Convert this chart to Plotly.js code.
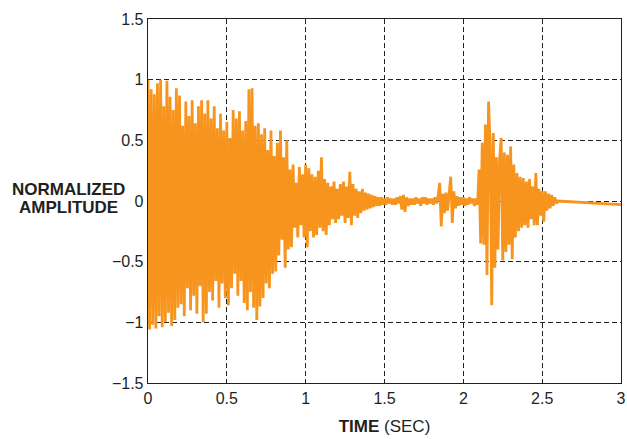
<!DOCTYPE html>
<html>
<head>
<meta charset="utf-8">
<script src="https://cdn.plot.ly/plotly-3.0.1.min.js"></script>
<style>html,body{margin:0;padding:0;background:#fff;}#chart{width:627px;height:439px;}</style>
</head>
<body>
<div id="chart"></div>
<script>
// Sampled waveform: one value every sampleStep seconds, starting at sampleStart
const sampleStart = 0;
const sampleStep = 0.01;
const amplitude = [
  1.0, -1.06, 0.92, -1.02, 0.88, -1.05, 0.97, -0.95, 1.0, -1.04,
  0.78, -1.0, 0.99, -0.92, 0.86, -1.03, 0.75, -0.98, 0.93, -0.88,
  0.87, -0.85, 0.62, -0.95, 0.82, -0.72, 0.70, -0.9, 0.83, -0.78,
  0.64, -0.93, 0.78, -0.7, 0.83, -1.0, 0.72, -0.93, 0.83, -0.75,
  0.68, -0.82, 0.78, -0.66, 0.6, -0.88, 0.72, -0.68, 0.58, -0.8,
  0.65, -0.86, 0.52, -0.72, 0.75, -0.6, 0.68, -0.78, 0.74, -0.66,
  0.58, -0.84, 0.66, -0.9, 0.92, -0.75, 0.93, -0.88, 0.62, -0.98,
  0.64, -0.87, 0.55, -0.8, 0.6, -0.68, 0.42, -0.72, 0.58, -0.6,
  0.37, -0.58, 0.48, -0.45, 0.58, -0.32, 0.36, -0.55, 0.5, -0.4,
  0.26, -0.38, 0.3, -0.22, 0.15, -0.3, 0.28, -0.2, 0.22, -0.3,
  0.3, -0.38, 0.27, -0.25, 0.22, -0.3, 0.2, -0.28, 0.25, -0.22,
  0.36, -0.25, 0.18, -0.28, 0.15, -0.2, 0.12, -0.15, 0.16, -0.18,
  0.1, -0.15, 0.14, -0.12, 0.16, -0.18, 0.12, -0.14, 0.24, -0.2,
  0.14, -0.12, 0.1, -0.14, 0.08, -0.1, 0.1, -0.08, 0.07, -0.07,
  0.06, -0.06, 0.05, -0.05, 0.04, -0.04, 0.03, -0.04, 0.03, -0.03,
  0.02, -0.03, 0.03, -0.02, 0.02, -0.03, 0.02, -0.03, 0.03, -0.02,
  0.04, -0.07, 0.05, -0.09, 0.03, -0.04, 0.02, -0.03, 0.02, -0.03,
  0.03, -0.02, 0.02, -0.04, 0.03, -0.02, 0.03, -0.03, 0.02, -0.02,
  0.02, -0.03, 0.03, -0.02, 0.04, 0.15, -0.21, 0.06, -0.1, 0.07,
  -0.08, 0.05, 0.2, -0.18, 0.08, -0.06, 0.04, -0.04, 0.03, -0.03,
  0.03, -0.04, 0.02, -0.03, 0.03, -0.02, 0.02, -0.04, 0.02, -0.03,
  0.26, -0.35, 0.48, -0.36, 0.63, -0.61, 0.82, 0.45, -0.86, 0.56,
  -0.55, 0.36, -0.4, 0.34, 0.52, -0.49, 0.4, -0.42, 0.38, -0.36,
  0.45, -0.48, 0.3, -0.3, 0.23, -0.25, 0.2, -0.22, 0.19, -0.2,
  0.16, -0.22, 0.18, -0.15, 0.12, -0.2, 0.23, -0.2, 0.1, -0.12,
  0.08, -0.17, 0.08, -0.08, 0.06, -0.06, 0.05, -0.04, 0.03, -0.02,
  0.0
];
// Flat decay tail after the last event
const tailTime = [3.0];
const tailAmplitude = [-0.03];

const xTicks = [0, 0.5, 1, 1.5, 2, 2.5, 3];
const xTickText = ['0', '0.5', '1', '1.5', '2', '2.5', '3'];
const yTicks = [-1.5, -1, -0.5, 0, 0.5, 1, 1.5];
const yTickText = ['\u22121.5', '\u22121', '\u22120.5', '0', '0.5', '1', '1.5'];

const xs = amplitude.map((v, i) => +(sampleStart + i * sampleStep).toFixed(4)).concat(tailTime);
const ys = amplitude.concat(tailAmplitude);

const font = 'Liberation Sans, Arial, Helvetica, sans-serif';
const ink = '#231f20';

const trace = {
  x: xs, y: ys, type: 'scatter', mode: 'lines',
  line: {color: 'rgb(247,148,29)', width: 2.8},
  hoverinfo: 'skip'
};

const axisCommon = {
  showline: true, linecolor: ink, linewidth: 1.3, mirror: true,
  showgrid: true, gridcolor: '#222', gridwidth: 1, griddash: '5px,3px',
  zeroline: false, ticks: '', fixedrange: true,
  tickfont: {family: font, size: 16, color: ink}
};

const layout = {
  width: 627, height: 439,
  margin: {l: 147.5, r: 5.5, t: 19, b: 56},
  paper_bgcolor: '#fff', plot_bgcolor: '#fff',
  showlegend: false,
  xaxis: Object.assign({}, axisCommon, {
    range: [0, 3], tickvals: xTicks, ticktext: xTickText,
    title: {text: '<b>TIME</b> (SEC)', font: {family: font, size: 17, color: ink}, standoff: 14}
  }),
  yaxis: Object.assign({}, axisCommon, {
    range: [-1.5, 1.5], tickvals: yTicks, ticktext: yTickText
  }),
  annotations: [
    {text: '<b>NORMALIZED</b>', xref: 'paper', yref: 'paper', x: -0.168, y: 0.532,
     xanchor: 'center', yanchor: 'middle', showarrow: false,
     font: {family: font, size: 17, color: ink}},
    {text: '<b>AMPLITUDE</b>', xref: 'paper', yref: 'paper', x: -0.168, y: 0.483,
     xanchor: 'center', yanchor: 'middle', showarrow: false,
     font: {family: font, size: 17, color: ink}}
  ]
};

Plotly.newPlot('chart', [trace], layout, {displayModeBar: false, staticPlot: true});
</script>
</body>
</html>
